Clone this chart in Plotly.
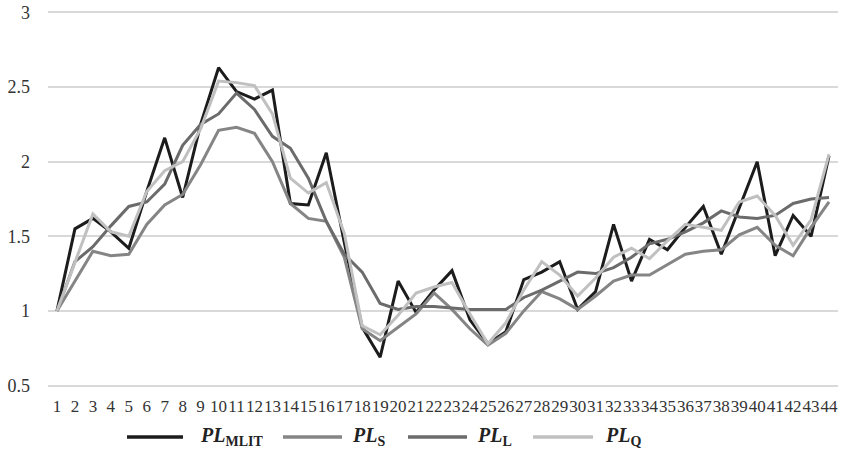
import plotly.graph_objects as go

x_labels = list(range(1, 45))

pl_mlit = [1.00, 1.55, 1.62, 1.53, 1.42, 1.80, 2.16, 1.76, 2.25, 2.63,
           2.47, 2.42, 2.48, 1.72, 1.71, 2.06, 1.46, 0.89, 0.69, 1.20,
           0.99, 1.14, 1.27, 0.94, 0.78, 0.86, 1.21, 1.26, 1.33, 1.01,
           1.13, 1.58, 1.20, 1.48, 1.41, 1.56, 1.70, 1.38, 1.69, 2.00,
           1.37, 1.64, 1.50, 2.04]
pl_s = [1.00, 1.20, 1.40, 1.37, 1.38, 1.58, 1.71, 1.78, 1.98, 2.21,
        2.23, 2.19, 2.00, 1.72, 1.62, 1.60, 1.36, 0.88, 0.80, 0.89,
        0.98, 1.12, 1.01, 0.88, 0.77, 0.85, 1.00, 1.13, 1.08, 1.01,
        1.10, 1.20, 1.24, 1.24, 1.31, 1.38, 1.40, 1.41, 1.51, 1.56,
        1.44, 1.37, 1.56, 1.73]
pl_l = [1.00, 1.33, 1.43, 1.57, 1.70, 1.73, 1.85, 2.11, 2.25, 2.32,
        2.46, 2.35, 2.17, 2.09, 1.89, 1.60, 1.38, 1.26, 1.05, 1.01,
        1.03, 1.03, 1.02, 1.01, 1.01, 1.01, 1.09, 1.14, 1.20, 1.26,
        1.25, 1.29, 1.36, 1.45, 1.48, 1.53, 1.59, 1.67, 1.63, 1.62,
        1.64, 1.72, 1.75, 1.76]
pl_q = [1.00, 1.32, 1.65, 1.53, 1.50, 1.80, 1.94, 2.00, 2.22, 2.54,
        2.53, 2.51, 2.32, 1.89, 1.79, 1.86, 1.52, 0.90, 0.84, 0.97,
        1.12, 1.16, 1.19, 0.98, 0.78, 0.92, 1.14, 1.33, 1.24, 1.10,
        1.22, 1.36, 1.42, 1.35, 1.47, 1.58, 1.56, 1.54, 1.73, 1.77,
        1.64, 1.44, 1.61, 2.05]

y_ticks = [0.5, 1, 1.5, 2, 2.5, 3]
y_tick_text = ["0.5", "1", "1.5", "2", "2.5", "3"]

series_names = ["<b><i>PL</i></b><sub><b>MLIT</b></sub>",
                "<b><i>PL</i></b><sub><b>S</b></sub>",
                "<b><i>PL</i></b><sub><b>L</b></sub>",
                "<b><i>PL</i></b><sub><b>Q</b></sub>"]
series_values = [pl_mlit, pl_s, pl_l, pl_q]
colors = ["#1c1c1c", "#858585", "#6b6b6b", "#c0c0c0"]

fig = go.Figure()
for name, vals, col in zip(series_names, series_values, colors):
    fig.add_trace(go.Scatter(x=x_labels, y=vals, mode="lines", name=name,
                             line=dict(color=col, width=3),
                             showlegend=False))

FW, FH = 841, 457
L, R, T, B = 48, 3, 11, 70
W, H = FW - L - R, FH - T - B

def px(xp):
    return (xp - L) / W

def py(yp):
    return (FH - B - yp) / H

legend_items = [(127, 183, 198), (283, 342, 350), (408, 467, 475), (533, 593, 603)]
for (x0, x1, tx), name, col in zip(legend_items, series_names, colors):
    fig.add_shape(type="line", xref="paper", yref="paper",
                  x0=px(x0), x1=px(x1), y0=py(437), y1=py(437),
                  line=dict(color=col, width=3.5))
    fig.add_annotation(xref="paper", yref="paper", x=px(tx), y=py(437),
                       xanchor="left", yanchor="middle", showarrow=False,
                       text=name, font=dict(family="Liberation Serif", size=20, color="#222222"))

fig.update_layout(
    width=FW, height=FH,
    margin=dict(l=L, r=R, t=T, b=B, autoexpand=False),
    paper_bgcolor="white", plot_bgcolor="white",
    font=dict(family="Liberation Serif", size=16, color="#333333"),
    showlegend=False,
)
fig.update_xaxes(range=[0.5, 44.5], tickmode="array", tickvals=x_labels,
                 ticktext=[str(v) for v in x_labels], showgrid=False,
                 zeroline=False, showline=False, ticks="", tickangle=0,
                 ticklabelstandoff=7, tickfont=dict(size=17))
fig.update_yaxes(range=[0.49, 3.01], tickmode="array",
                 tickvals=y_ticks, ticktext=y_tick_text,
                 showgrid=True, gridcolor="#d9d9d9", gridwidth=1.5,
                 zeroline=False, showline=False, ticks="",
                 ticklabeloverflow="allow",
                 ticklabelstandoff=17, tickfont=dict(size=18))

fig.write_html("out.html", config={"displayModeBar": False},
               post_script=["document.body.style.margin='0px';document.body.style.overflow='hidden';"])
